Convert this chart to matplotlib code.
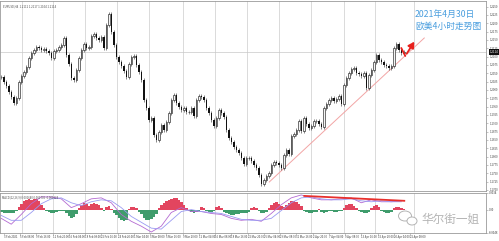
import numpy as np
import matplotlib
matplotlib.use('Agg')
import matplotlib.pyplot as plt
from matplotlib.patches import Ellipse
from matplotlib.ticker import FormatStrFormatter

plt.rcParams['font.family'] = ['Noto Sans CJK SC', 'DejaVu Sans']

# EURUSD H4 closes
closes = [
    1.2039, 1.2024, 1.2012, 1.1994, 1.1979, 1.1961, 1.1976, 1.2024, 1.2042, 1.2054,
    1.2069, 1.2096, 1.2111, 1.2120, 1.2129, 1.2126, 1.2120, 1.2123, 1.2117, 1.2111,
    1.2096, 1.2117, 1.2120, 1.2129, 1.2135, 1.2156, 1.2105, 1.2078, 1.2036, 1.2030,
    1.2060, 1.2096, 1.2120, 1.2138, 1.2126, 1.2129, 1.2162, 1.2168, 1.2156, 1.2150,
    1.2159, 1.2126, 1.2195, 1.2228, 1.2174, 1.2135, 1.2099, 1.2084, 1.2072, 1.2057,
    1.2039, 1.2078, 1.2099, 1.2102, 1.2075, 1.2054, 1.2030, 1.1970, 1.1946, 1.1910,
    1.1916, 1.1865, 1.1850, 1.1874, 1.1895, 1.1880, 1.1904, 1.1931, 1.1970, 1.1985,
    1.1961, 1.1949, 1.1940, 1.1946, 1.1934, 1.1934, 1.1946, 1.1922, 1.1970, 1.1982,
    1.1979, 1.1970, 1.1946, 1.1931, 1.1910, 1.1892, 1.1916, 1.1940, 1.1931, 1.1919,
    1.1880, 1.1856, 1.1844, 1.1829, 1.1820, 1.1811, 1.1796, 1.1778, 1.1796, 1.1796,
    1.1787, 1.1775, 1.1766, 1.1745, 1.1718, 1.1730, 1.1742, 1.1751, 1.1775, 1.1784,
    1.1781, 1.1775, 1.1766, 1.1805, 1.1820, 1.1808, 1.1862, 1.1868, 1.1880, 1.1907,
    1.1877, 1.1916, 1.1898, 1.1886, 1.1892, 1.1907, 1.1907, 1.1898, 1.1889, 1.1946,
    1.1958, 1.1970, 1.1976, 1.1967, 1.1973, 1.1982, 1.1958, 1.2015, 1.2036, 1.2051,
    1.2063, 1.2066, 1.2051, 1.2048, 1.2042, 1.2051, 1.2006, 1.2045, 1.2060, 1.2084,
    1.2105, 1.2090, 1.2084, 1.2075, 1.2072, 1.2066, 1.2072, 1.2126, 1.2138, 1.2120,
    1.2111, 1.2114,
]

macd_hist = [
    -0.0004, -0.0006, -0.0008, -0.0008, -0.0008, -0.0006, -0.0002,
    0.0006, 0.0012, 0.0018, 0.0020, 0.0022, 0.0020, 0.0022, 0.0022, 0.0018, 0.0010,
    0.0004,
    -0.0002, -0.0004, -0.0006, -0.0006, -0.0004, -0.0002, -0.0002, -0.0002,
    -0.0008, -0.0014, -0.0018, -0.0016, -0.0010,
    0.0004, 0.0010, 0.0014, 0.0012, 0.0008, 0.0012, 0.0014, 0.0012, 0.0010, 0.0004,
    -0.0002, 0.0006, 0.0008, 0.0002,
    -0.0006, -0.0012, -0.0018, -0.0022, -0.0024, -0.0022,
    0.0002, 0.0006, 0.0006, 0.0004,
    -0.0004, -0.0010, -0.0018, -0.0022, -0.0022, -0.0020, -0.0016, -0.0010,
    0.0004, 0.0010, 0.0014, 0.0018, 0.0020, 0.0022, 0.0024, 0.0024, 0.0020, 0.0016, 0.0010,
    0.0004,
    -0.0002, -0.0004, -0.0006, -0.0004, -0.0002,
    0.0006, 0.0004,
    -0.0002, -0.0004, -0.0004, -0.0002,
    0.0006, 0.0008, 0.0004,
    -0.0004, -0.0008, -0.0010, -0.0012, -0.0012, -0.0010, -0.0010, -0.0008, -0.0008, -0.0006, -0.0004,
    0.0004, 0.0006, 0.0004,
    -0.0002, -0.0006, -0.0006, -0.0004,
    0.0004, 0.0010, 0.0014, 0.0016, 0.0012, 0.0008, 0.0006,
    0.0010, 0.0014, 0.0018, 0.0018, 0.0016, 0.0012, 0.0008,
    -0.0002, -0.0004, -0.0006, -0.0006, -0.0004, -0.0004,
    0.0002,
    -0.0004, -0.0006, -0.0004, -0.0002, -0.0002, -0.0004, -0.0004, -0.0002, -0.0002,
    0.0004, 0.0010, 0.0012, 0.0012, 0.0008, 0.0004,
    -0.0002, -0.0004, -0.0006, -0.0006, -0.0004,
    0.0004, 0.0008, 0.0010, 0.0006,
    -0.0002, -0.0004, -0.0006, -0.0006, -0.0004,
    0.0004, 0.0006, 0.0006, 0.0004, 0.0002,
]

# MACD and signal lines, one reading every 4 bars
macd_line = [
    -0.0018, -0.0030, -0.0010, 0.0012, 0.0026, 0.0026, 0.0022, 0.0004, 0.0012, 0.0022,
    0.0024, 0.0014, -0.0010, -0.0024, -0.0034, -0.0046, -0.0034, -0.0006, 0.0004, -0.0004,
    -0.0004, -0.0008, -0.0010, -0.0018, -0.0022, -0.0020, -0.0024, -0.0008, 0.0010, 0.0024,
    0.0030, 0.0024, 0.0020, 0.0020, 0.0022, 0.0024, 0.0014, 0.0020, 0.0016, 0.0016, 0.0018,
]
signal_line = [
    -0.0012, -0.0022, -0.0022, -0.0006, 0.0012, 0.0022, 0.0024, 0.0014, 0.0008, 0.0016,
    0.0020, 0.0018, 0.0004, -0.0014, -0.0026, -0.0038, -0.0040, -0.0022, -0.0004, 0.0000,
    -0.0004, -0.0006, -0.0008, -0.0014, -0.0020, -0.0022, -0.0022, -0.0018, -0.0002, 0.0014,
    0.0024, 0.0026, 0.0022, 0.0020, 0.0020, 0.0022, 0.0018, 0.0016, 0.0018, 0.0016, 0.0016,
]

date_labels = [
    "3 Feb 2021", "5 Feb 08:00", "9 Feb 16:00", "11 Feb 20:00", "16 Feb 04:00",
    "18 Feb 08:00", "22 Feb 16:00", "24 Feb 20:00", "1 Mar 04:00", "3 Mar 08:00",
    "5 Mar 16:00", "9 Mar 20:00", "12 Mar 04:00", "16 Mar 08:00", "18 Mar 16:00",
    "22 Mar 20:00", "25 Mar 04:00", "29 Mar 08:00", "31 Mar 16:00", "2 Apr 20:00",
    "7 Apr 04:00", "9 Apr 08:00", "13 Apr 16:00", "15 Apr 20:00", "20 Apr 04:00",
    "22 Apr 08:00",
]

# chart furniture
GRID_X = [8.4, 20.8, 33.6, 46.4, 59.2, 72.8, 85.6, 98.4, 111.2, 124.0, 137.2, 149.6, 165.2]
WICK = 0.0007
TREND_PRICE = ((107.2, 1.1724), (169.2, 1.2156))
TREND_MACD = ((121.2, 0.0028), (161.2, 0.0018))
SMALL = 2.0

fig = plt.figure(figsize=(4.99, 2.41), dpi=100)
ax = fig.add_axes([0.0, 0.2075, 0.974, 0.7884])
axm = fig.add_axes([0.0, 0.0332, 0.974, 0.166])

c = np.array(closes)
o = np.r_[c[0], c[:-1]]
hi = np.maximum(o, c) + WICK
lo = np.minimum(o, c) - WICK
x = np.arange(len(c))
up = c >= o

for a in (ax, axm):
    for gx in GRID_X:
        a.axvline(gx, color='#d4d4d4', lw=0.6, zorder=0)
    a.set_xlim(-0.5, 193.9)
    for s in a.spines.values():
        s.set_color('#9a9a9a')
        s.set_linewidth(0.6)

ax.axhline(c[-1], color='#c8c8c8', lw=0.5, zorder=0)
ax.vlines(x, lo, hi, color='#555555', lw=0.5, zorder=2)
ax.bar(x[up], (c - o)[up], bottom=o[up], width=0.6, color='#f4f4f4',
       edgecolor='#222222', lw=0.45, zorder=3)
ax.bar(x[~up], (o - c)[~up], bottom=c[~up], width=0.6, color='#111111', lw=0, zorder=3)

ax.plot([TREND_PRICE[0][0], TREND_PRICE[1][0]], [TREND_PRICE[0][1], TREND_PRICE[1][1]],
        color='#f2a5a5', lw=0.7, zorder=1)
ax.plot([160.0, 161.6], [1.2126, 1.2102], color='#e8201c', lw=1.3, zorder=4,
        solid_capstyle='round')
ax.annotate('', xy=(165.8, 1.2152), xytext=(161.6, 1.2102),
            arrowprops=dict(arrowstyle='-|>,head_length=0.35,head_width=0.2',
                            color='#e8201c', lw=1.3), zorder=4)

ax.set_ylim(1.1697, 1.2267)
ax.set_xticks([])
ax.yaxis.tick_right()
ax.set_yticks(np.arange(1.1700, 1.2251, 0.0025))
ax.yaxis.set_major_formatter(FormatStrFormatter('%.4f'))
ax.tick_params(axis='y', labelsize=SMALL, length=1.5, width=0.4, pad=0.8,
               colors='#9a9a9a', labelcolor='#404040')
ax.text(1.008, c[-1], '%.4f' % c[-1], transform=ax.get_yaxis_transform(),
        fontsize=SMALL, color='white', va='center', ha='left',
        bbox=dict(boxstyle='square,pad=0.2', fc='#111111', ec='none'))
ax.text(0.006, 0.985, 'EURUSD,H4  1.2112 1.2117 1.2104 1.2114', transform=ax.transAxes,
        fontsize=SMALL, color='#505050', va='top', ha='left')

# MACD panel
hx = np.arange(len(macd_hist))
h = np.array(macd_hist)
axm.bar(hx, h, width=1.0, color=np.where(h >= 0, '#e2455f', '#3f9c6c'), lw=0, zorder=2)
lx = np.arange(len(macd_line)) * 4
axm.plot(lx, macd_line, color='#b46ad2', lw=0.6, zorder=3)
axm.plot(lx, signal_line, color='#9a9af2', lw=0.6, zorder=3)
axm.plot([TREND_MACD[0][0], TREND_MACD[1][0]], [TREND_MACD[0][1], TREND_MACD[1][1]],
         color='#e8302c', lw=1.3, zorder=4)
axm.set_ylim(-0.0048, 0.0034)
axm.yaxis.tick_right()
axm.set_yticks([0.0034, 0.0, -0.0048])
axm.set_yticklabels(['0.0034', '0.00', '-0.0048'])
axm.tick_params(axis='y', labelsize=SMALL, length=1.5, width=0.4, pad=0.8,
                colors='#9a9a9a', labelcolor='#404040')
axm.set_xticks(1.0 + 6.5 * np.arange(len(date_labels)))
axm.set_xticklabels(date_labels, ha='left')
axm.tick_params(axis='x', labelsize=SMALL, length=1.2, width=0.4, pad=0.6,
                colors='#9a9a9a', labelcolor='#404040')
axm.text(0.004, 0.95, 'MACD(12,26,9) 0.001640 0.001702 -0.000124', transform=axm.transAxes,
         fontsize=SMALL, color='#505050', va='top', ha='left')

# overlay for text and watermark, in pixel units
ov = fig.add_axes([0, 0, 1, 1], zorder=10)
ov.set_xlim(0, 499)
ov.set_ylim(241, 0)
ov.axis('off')
ov.patch.set_alpha(0)
ov.text(415, 17, '2021年4月30日', fontsize=6.3, color='#4a9ede', ha='left', va='baseline')
ov.text(415, 29, '欧美4小时走势图', fontsize=6.3, color='#4a9ede', ha='left', va='baseline')
ov.text(421, 219, '华尔街一姐', fontsize=8.4, color='#b4b4b4', ha='left', va='center')
ov.add_patch(Ellipse((405, 216), 13, 10, fc='none', ec='#b4b4b4', lw=0.7))
ov.add_patch(Ellipse((412, 221), 10, 8, fc='white', ec='#b4b4b4', lw=0.7))

fig.savefig('out.png', dpi=100)
